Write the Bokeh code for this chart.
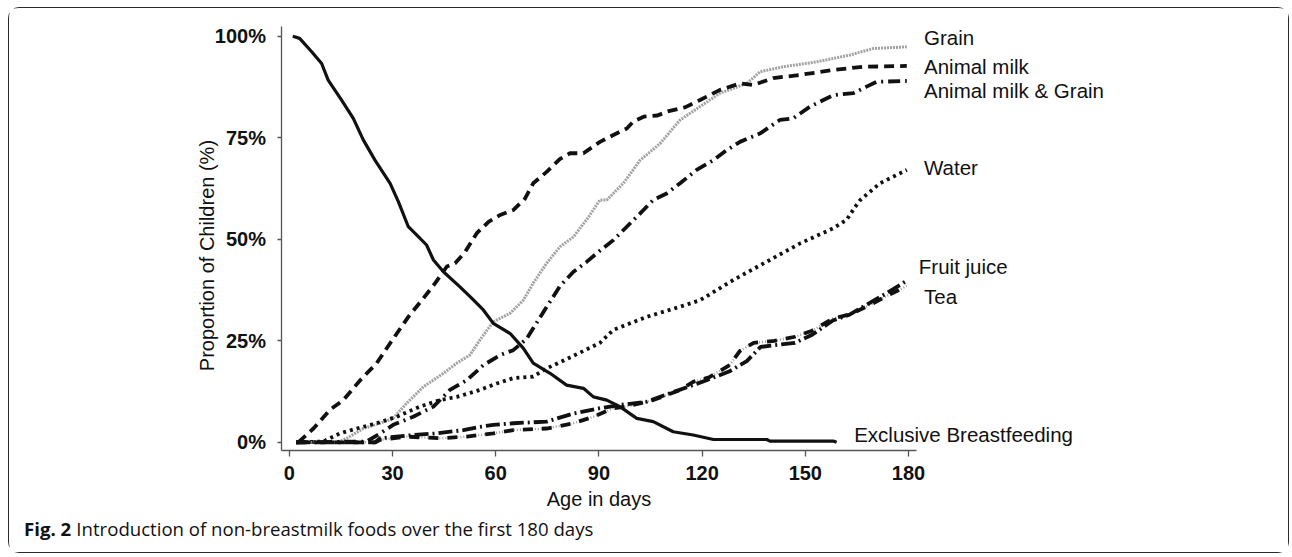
import math
from bokeh.plotting import figure
from bokeh.models import Range1d, Label, FixedTicker, CustomJSTickFormatter
from bokeh.embed import file_html
from bokeh.resources import INLINE

# ---- data ----
ebf_day = [1, 3, 6.5, 9.4, 11.3, 15.2, 18.6, 21.5, 24.9, 29.3, 31.7, 34.6, 37, 39.9, 41.9, 44.8, 49.6, 53, 56.4,
           59.3, 64.2, 68, 70.9, 75.8, 80.6, 85.5, 88.4, 92.3, 96.1, 101, 105.8, 111.6, 117.4, 123.3, 138.8,
           139.7, 158.1, 159.1]
ebf_pct = [100, 99.5, 96.2, 93.3, 89.2, 84.3, 79.8, 74.5, 69.5, 63.8, 59.3, 53.1, 51.1, 48.6, 44.9, 42.0, 38.3,
           35.5, 32.6, 29.3, 26.8, 23.2, 19.5, 17.0, 14.1, 13.3, 11.2, 10.4, 8.8, 5.9, 5.1, 2.6, 1.8, 0.7, 0.7,
           0.3, 0.3, 0]

milk_day = [2.6, 7, 11.8, 15.7, 20.6, 25.4, 29.3, 34.6, 39, 42.4, 45.8, 48.2, 51.1, 54.5, 57.9, 61.3, 65.1, 68.5,
            70.9, 74.8, 78.7, 81.6, 85.5, 90.3, 94.2, 98.1, 100, 103, 107, 110, 115, 119.4, 125.2, 131, 134.9,
            140.7, 148.5, 158.1, 166.9, 179.5]
milk_pct = [0, 3.4, 8.0, 10.4, 15.3, 19.5, 24.4, 30.9, 35.5, 39.2, 43.3, 44.1, 46.9, 51.5, 54.3, 56.0, 57.2, 60.0,
            63.8, 66.6, 69.8, 71.2, 71.2, 74.0, 75.7, 77.3, 79.0, 80.2, 80.5, 81.5, 82.5, 84.3, 86.8, 88.4, 88.0,
            89.7, 90.5, 91.7, 92.5, 92.7]

grain_day = [2, 14, 16.7, 21.5, 26.4, 30.2, 34.1, 39, 44.8, 48.7, 52.5, 55.4, 59.3, 64.2, 68, 70.9, 74.8, 78.7,
             82.6, 87, 90.3, 92.3, 97.1, 102, 107.8, 113.6, 119.4, 125.2, 133, 136.9, 143.6, 153.3, 163, 169.8,
             179.5]
grain_pct = [0, 0, 1.0, 3.4, 4.7, 5.9, 9.6, 13.7, 17.0, 19.5, 21.5, 25.2, 29.7, 31.8, 35.0, 39.2, 44.1, 48.2,
             50.6, 55.5, 59.7, 59.7, 63.8, 69.5, 73.6, 79.4, 82.7, 86.0, 88.4, 91.3, 92.5, 93.7, 95.4, 97.0, 97.4]

mg_day = [2, 22.5, 26.4, 30.2, 36, 41.9, 46.7, 51.6, 56.4, 61.3, 65.1, 69, 73.8, 78.7, 82.6, 86.5, 90.3, 94.2,
          98.1, 102, 105.8, 109.7, 113.6, 118.4, 123.3, 127.2, 131, 136.9, 142.6, 146.5, 151.4, 158.1, 164,
          167.8, 170.8, 179.5]
mg_pct = [0, 0.2, 2.2, 4.3, 6.3, 8.8, 12.9, 15.3, 19.0, 21.5, 22.7, 25.5, 32.0, 38.5, 42.0, 44.5, 47.2, 49.8,
          53.1, 56.4, 59.7, 61.3, 63.8, 67.1, 69.5, 72.0, 74.0, 76.1, 79.4, 79.8, 82.7, 85.5, 86.0, 87.6, 88.8,
          89.0]

water_day = [2, 9.9, 14.7, 19.6, 25.4, 31.2, 38, 43.8, 48.7, 55.4, 60.3, 65.1, 70.9, 74.8, 80.6, 85.5, 90.3,
             94.2, 103.9, 113.6, 119.4, 129.1, 138.8, 148.5, 158.1, 162, 164.5, 166, 171.7, 179.5]
water_pct = [0, 0.2, 2.2, 3.4, 4.7, 6.3, 8.8, 10.4, 11.2, 12.9, 14.5, 15.8, 16.2, 18.2, 20.5, 22.5, 24.5, 27.7,
             30.9, 33.4, 35.0, 40.0, 44.5, 49.0, 52.7, 54.8, 58.0, 59.7, 63.8, 67.1]

juice_day = [2, 25, 26.4, 36, 42.8, 50.6, 55.4, 59.3, 65.1, 74.8, 82.6, 90.3, 96.1, 103.9, 110.7, 117.4, 121.3,
             128, 133, 137, 142, 147, 152, 158, 163, 168, 173.6, 179.5]
juice_pct = [0, 0, 1.0, 1.8, 2.2, 3.0, 3.8, 4.3, 4.7, 5.1, 7.1, 8.4, 9.2, 10.0, 12.1, 14.1, 15.3, 17.5, 20.0,
             23.5, 24.0, 24.5, 26.5, 30.0, 31.5, 34.0, 36.7, 39.8]

tea_day = [2, 25, 26.4, 34.1, 43.8, 51.6, 59.3, 65.1, 74.8, 82.6, 88.4, 94.2, 98.1, 105.8, 113.6, 117.4, 122,
           128, 131, 135, 141, 147, 152, 158, 163, 168, 173.6, 179.5]
tea_pct = [0, 0, 0.6, 1.4, 1.0, 1.4, 2.2, 3.0, 3.4, 4.7, 6.3, 8.4, 8.8, 10.4, 12.9, 14.9, 16.0, 19.0, 22.5,
           24.5, 25.0, 26.0, 27.5, 30.5, 31.5, 33.5, 36.0, 38.5]

x_ticks = [0, 30, 60, 90, 120, 150, 180]
y_ticks = [0, 25, 50, 75, 100]

series_labels = ["Grain", "Animal milk", "Animal milk & Grain", "Water", "Fruit juice", "Tea",
                 "Exclusive Breastfeeding"]

FONT = "Liberation Sans"

# axis extents (data units)
X_AXIS = (-2.41, 182.2)
Y_AXIS = (-2.1, 102.33)

p = figure(width=1281, height=546, output_backend="svg", toolbar_location=None,
           x_range=Range1d(-81.34, 291.04), y_range=Range1d(-27.63, 106.85),
           min_border=0)
p.grid.visible = False
p.outline_line_color = None
p.background_fill_color = "white"
p.border_fill_color = "white"
p.styles = {"border": "1.5px solid #2a2a2a", "border-radius": "11px", "margin": "7px 0 0 8px"}

# axes (drawn at fixed data positions inside the full-canvas frame)
for ax in (p.xaxis[0], p.yaxis[0]):
    ax.axis_line_color = "#555555"
    ax.axis_line_width = 1.3
    ax.major_tick_line_color = "#555555"
    ax.major_tick_line_width = 1.3
    ax.minor_tick_line_color = None
    ax.major_tick_in = 0
    ax.major_label_text_font = FONT
    ax.major_label_text_font_style = "bold"
    ax.major_label_text_font_size = "20px"
    ax.major_label_text_color = "#111111"
    ax.axis_label_text_font = FONT
    ax.axis_label_text_font_style = "normal"
    ax.axis_label_text_font_size = "20px"
    ax.axis_label_text_color = "#111111"

xa = p.xaxis[0]
xa.fixed_location = Y_AXIS[0]
xa.bounds = X_AXIS
xa.ticker = FixedTicker(ticks=x_ticks)
xa.major_tick_out = 6
xa.major_label_standoff = 9
xa.axis_label = "Age in days"
xa.axis_label_standoff = 5

ya = p.yaxis[0]
ya.fixed_location = X_AXIS[0]
ya.bounds = Y_AXIS
ya.ticker = FixedTicker(ticks=y_ticks)
ya.major_tick_out = 4
ya.major_label_standoff = 11
ya.formatter = CustomJSTickFormatter(code="return tick + '%';")

p.add_layout(Label(x=-23.8, y=46.0, text="Proportion of Children (%)", angle=math.pi / 2,
                   text_font=FONT, text_font_size="20px", text_align="center", text_baseline="middle",
                   text_color="#111111"))

# lines
p.line(grain_day, grain_pct, line_color="#a2a2a2", line_width=3.0, line_dash="2 1")
p.line(water_day, water_pct, line_color="#111111", line_width=3.8, line_dash="3 4")
p.line(mg_day, mg_pct, line_color="#111111", line_width=3.8, line_dash="12 5 2 5")
p.line(milk_day, milk_pct, line_color="#111111", line_width=3.8, line_dash="10 6")
p.line(tea_day, tea_pct, line_color="#9d9d9d", line_width=2.4, line_dash="1 2")
p.line(tea_day, tea_pct, line_color="#111111", line_width=3.8, line_dash="10 9")
p.line(juice_day, juice_pct, line_color="#111111", line_width=3.8, line_dash="14 4 2 4")
p.line(ebf_day, ebf_pct, line_color="#111111", line_width=3.2)

# right-hand series labels
label_x = [184.5, 184.5, 184.5, 184.5, 183.0, 184.5, 164.2]
label_y = [99.8, 92.5, 86.6, 67.8, 43.3, 36.0, 2.0]
for t, lx, ly in zip(series_labels, label_x, label_y):
    p.add_layout(Label(x=lx, y=ly, text=t, text_font=FONT, text_font_size="20.5px",
                       text_baseline="middle", text_align="left", text_color="#111111"))

# caption
p.add_layout(Label(x=-77.1, y=-21.3, text="Fig. 2", text_font="Open Sans", text_font_style="bold",
                   text_font_size="18.6px", text_baseline="middle", text_align="left", text_color="#111111"))
p.add_layout(Label(x=-61.9, y=-21.3, text="Introduction of non-breastmilk foods over the first 180 days",
                   text_font="Open Sans", text_font_size="18.6px", text_baseline="middle", text_align="left",
                   text_color="#111111"))

open("out.html", "w").write(file_html(p, INLINE))
